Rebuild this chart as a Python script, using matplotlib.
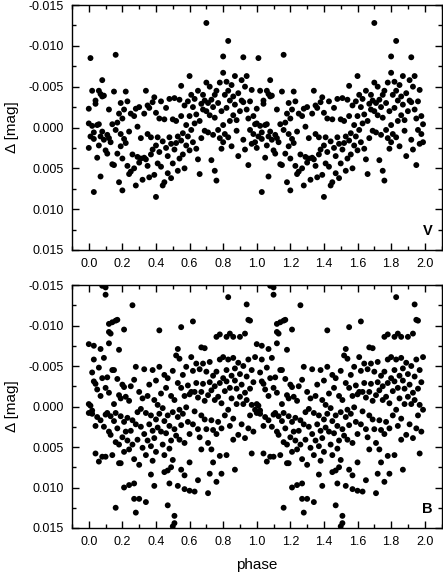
import numpy as np
import matplotlib
matplotlib.use("Agg")
import matplotlib.pyplot as plt
from matplotlib.ticker import MultipleLocator, FormatStrFormatter

plt.rcParams['font.family'] = ['Liberation Sans', 'DejaVu Sans']

# ---- V band: one cycle of phased data (phase, delta mag) ----
v_phase = [
    0.01, 0.03, 0.16, 0.70, 0.83, 0.80, 0.92, 0.40,
    0.00, 0.00, 0.01, 0.00, 0.02, 0.02, 0.03, 0.03, 0.04, 0.04, 0.05, 0.05,
    0.06, 0.06, 0.06, 0.07, 0.07, 0.08, 0.08, 0.08, 0.07, 0.09, 0.09, 0.10,
    0.11, 0.11, 0.12, 0.12, 0.13, 0.14, 0.14, 0.15, 0.15, 0.16, 0.17, 0.17,
    0.18, 0.18, 0.19, 0.19, 0.19, 0.20, 0.20, 0.20, 0.21, 0.21, 0.22, 0.22,
    0.23, 0.23, 0.24, 0.24, 0.25, 0.25, 0.26, 0.27, 0.27, 0.28, 0.28, 0.29,
    0.29, 0.30, 0.30,
    0.31, 0.31, 0.32, 0.33, 0.33, 0.34, 0.34, 0.35, 0.35, 0.35, 0.36, 0.36,
    0.37, 0.37, 0.38, 0.38, 0.39, 0.39, 0.40, 0.40, 0.41, 0.41, 0.42, 0.42,
    0.43, 0.43, 0.44, 0.44, 0.45, 0.45, 0.46, 0.46, 0.47, 0.47, 0.48, 0.48,
    0.49, 0.49, 0.50, 0.50,
    0.51, 0.51, 0.52, 0.52, 0.53, 0.53, 0.54, 0.54, 0.55, 0.55, 0.55, 0.56,
    0.56, 0.57, 0.57, 0.58, 0.58, 0.59, 0.59, 0.60, 0.60, 0.60, 0.61, 0.61,
    0.62, 0.62, 0.63, 0.63, 0.64, 0.64, 0.65, 0.65, 0.66, 0.66, 0.67, 0.67,
    0.68, 0.68, 0.69, 0.69, 0.70, 0.70,
    0.71, 0.71, 0.72, 0.72, 0.73, 0.73, 0.74, 0.74, 0.75, 0.75, 0.75, 0.76,
    0.76, 0.77, 0.77, 0.78, 0.78, 0.79, 0.79, 0.80, 0.80, 0.80, 0.81, 0.81,
    0.82, 0.82, 0.83, 0.83, 0.84, 0.84, 0.85, 0.85, 0.86, 0.86, 0.87, 0.87,
    0.88, 0.88, 0.89, 0.89, 0.90,
    0.91, 0.91, 0.92, 0.92, 0.93, 0.93, 0.94, 0.94, 0.95, 0.95, 0.96, 0.96,
    0.97, 0.97, 0.98, 0.98, 0.99, 0.99,
]
v_mag = [
    -0.0085, 0.0079, -0.0089, -0.0128, -0.0106, -0.0087, -0.0086, 0.0085,
    -0.0023, -0.0005, 0.0011, 0.0025, -0.0045, -0.0002, 0.0006, 0.0014, -0.0033, -0.0029, 0.0037, -0.0003,
    -0.0045, -0.0004, 0.0022, -0.0041, 0.0011, -0.0058, -0.0038, 0.0005, 0.0060, 0.0015, -0.0039, 0.0028,
    0.0009, 0.0032, -0.0022, 0.0013, 0.0018, -0.0004, 0.0045, -0.0044, 0.0046, 0.0003, -0.0006, 0.0032,
    0.0067, -0.0017, -0.0030, 0.0008, 0.0023, -0.0011, 0.0038, 0.0077, 0.0014, -0.0022, -0.0044, 0.0019,
    0.0047, -0.0032, 0.0057, 0.0005, 0.0054, -0.0017, 0.0033, -0.0014, 0.0050, 0.0071, -0.0023, 0.0036,
    -0.0001, 0.0043, -0.0025,
    0.0038, 0.0013, 0.0064, 0.0037, -0.0017, -0.0045, 0.0039, 0.0047, -0.0027, 0.0008, 0.0061, -0.0024,
    0.0012, 0.0033, -0.0031, 0.0027, -0.0037, 0.0058, 0.0022, -0.0018, 0.0012, 0.0044, -0.0011, 0.0030,
    0.0048, -0.0032, 0.0071, 0.0017, -0.0010, 0.0067, 0.0025, -0.0024, 0.0035, 0.0056, -0.0035, 0.0012,
    0.0062, 0.0020, -0.0010, 0.0044,
    0.0027, -0.0036, 0.0019, -0.0008, 0.0053, 0.0011, -0.0034, 0.0038, -0.0051, 0.0016, -0.0014, 0.0007,
    0.0033, -0.0027, 0.0050, -0.0003, 0.0022, -0.0032, 0.0011, -0.0063, -0.0014, 0.0028, -0.0040, 0.0003,
    -0.0025, 0.0018, -0.0035, -0.0005, 0.0026, -0.0016, -0.0045, 0.0039, -0.0008, 0.0057, -0.0029, 0.0013,
    -0.0022, -0.0040, 0.0004, -0.0033, -0.0055, -0.0020,
    -0.0030, 0.0006, -0.0050, -0.0015, -0.0034, 0.0040, -0.0025, 0.0009, -0.0040, 0.0053, -0.0012, 0.0065,
    -0.0045, 0.0003, -0.0030, -0.0055, 0.0013, -0.0020, 0.0026, -0.0067, -0.0003, 0.0018, -0.0040, 0.0008,
    -0.0056, -0.0024, 0.0012, -0.0045, -0.0033, -0.0008, 0.0023, -0.0052, -0.0038, -0.0015, -0.0063, -0.0028,
    -0.0009, 0.0004, -0.0042, 0.0035, -0.0020,
    -0.0033, -0.0058, -0.0031, 0.0015, -0.0050, 0.0027, -0.0063, -0.0022, 0.0046, -0.0011, 0.0003, -0.0032,
    0.0020, -0.0046, -0.0014, 0.0008, 0.0018, -0.0004,
]

# ---- B band: one cycle of phased data (phase, delta mag) ----
b_phase = [
    0.08, 0.10, 0.10, 0.26, 0.83, 0.94,
    0.12, 0.14, 0.16, 0.17, 0.12, 0.13, 0.21, 0.62, 0.55, 0.42, 0.95, 0.96,
    0.00, 0.03, 0.07, 0.12, 0.18, 0.53,
    0.86, 0.82, 0.78, 0.76, 0.84, 0.90, 0.93, 0.69, 0.67,
    0.16, 0.28, 0.27, 0.30, 0.34, 0.21, 0.24, 0.27, 0.39,
    0.51, 0.50, 0.51, 0.47, 0.37, 0.45, 0.47, 0.49, 0.50, 0.48,
    0.53, 0.57, 0.60, 0.63, 0.65, 0.71, 0.55, 0.57, 0.60,
    0.72, 0.74, 0.79, 0.76, 0.87, 0.82, 0.78, 0.86, 0.97, 0.67, 0.73,
    0.00, 0.00, 0.01, 0.02, 0.02, 0.02, 0.03, 0.03, 0.04, 0.04, 0.04, 0.05,
    0.05, 0.06, 0.06, 0.07, 0.07, 0.08, 0.08, 0.09, 0.09, 0.10, 0.10, 0.10,
    0.11, 0.11, 0.12, 0.12, 0.13, 0.13, 0.14, 0.14, 0.15, 0.15, 0.15, 0.16,
    0.16, 0.17, 0.17, 0.18, 0.18, 0.18, 0.19, 0.19, 0.19, 0.20, 0.20,
    0.21, 0.21, 0.21, 0.22, 0.22, 0.23, 0.23, 0.24, 0.24, 0.25, 0.25, 0.26,
    0.26, 0.27, 0.27, 0.28, 0.28, 0.29, 0.29, 0.30, 0.30,
    0.31, 0.31, 0.32, 0.32, 0.33, 0.33, 0.34, 0.34, 0.35, 0.35, 0.36, 0.36,
    0.37, 0.37, 0.38, 0.38, 0.38, 0.39, 0.39, 0.40, 0.40, 0.40,
    0.41, 0.41, 0.42, 0.42, 0.43, 0.43, 0.44, 0.44, 0.45, 0.45, 0.45, 0.46,
    0.46, 0.47, 0.47, 0.48, 0.48, 0.49, 0.49, 0.50, 0.50,
    0.51, 0.51, 0.52, 0.52, 0.53, 0.53, 0.54, 0.54, 0.54, 0.55, 0.55, 0.56,
    0.56, 0.57, 0.57, 0.58, 0.58, 0.59, 0.59, 0.60, 0.60,
    0.61, 0.61, 0.62, 0.62, 0.63, 0.63, 0.64, 0.64, 0.65, 0.65, 0.66, 0.66,
    0.67, 0.67, 0.68, 0.68, 0.69, 0.69, 0.70, 0.70,
    0.71, 0.71, 0.72, 0.72, 0.73, 0.73, 0.74, 0.74, 0.75, 0.75, 0.76, 0.76,
    0.77, 0.77, 0.78, 0.78, 0.79, 0.79, 0.80, 0.80,
    0.81, 0.81, 0.82, 0.82, 0.83, 0.83, 0.84, 0.84, 0.85, 0.85, 0.86, 0.86,
    0.87, 0.87, 0.88, 0.88, 0.89, 0.89, 0.90, 0.90,
    0.91, 0.91, 0.92, 0.92, 0.93, 0.93, 0.94, 0.94, 0.95, 0.95, 0.96, 0.96,
    0.97, 0.97, 0.98, 0.98, 0.99, 0.99,
]
b_mag = [
    -0.0149, -0.0147, -0.0138, -0.0125, -0.0135, -0.0126,
    -0.0102, -0.0104, -0.0106, -0.0107, -0.0092, -0.0090, -0.0095, -0.0105, -0.0098, -0.0094, -0.0107, -0.0106,
    -0.0077, -0.0075, -0.0071, -0.0078, -0.0070, -0.0071,
    -0.0086, -0.0086, -0.0089, -0.0086, -0.0090, -0.0086, -0.0090, -0.0072, -0.0073,
    0.0125, 0.0131, 0.0114, 0.0114, 0.0118, 0.0100, 0.0097, 0.0095, 0.0098,
    0.0144, 0.0148, 0.0135, 0.0122, 0.0084, 0.0081, 0.0079, 0.0075, 0.0066, 0.0095,
    0.0098, 0.0102, 0.0104, 0.0105, 0.0091, 0.0107, 0.0078, 0.0085, 0.0069,
    0.0083, 0.0069, 0.0083, 0.0093, 0.0078, 0.0060, 0.0061, 0.0041, 0.0058, 0.0053, 0.0053,
    -0.0003, 0.0008, -0.0001, 0.0005, -0.0042, 0.0009, -0.0031, -0.0058, -0.0028, 0.0024, 0.0058, -0.0021,
    0.0013, -0.0048, 0.0068, -0.0013, 0.0017, 0.0062, -0.0035, 0.0025, -0.0060, 0.0010, -0.0023, 0.0062,
    -0.0036, 0.0008, 0.0031, -0.0017, 0.0012, 0.0035, -0.0045, 0.0060, -0.0045, 0.0018, -0.0003, 0.0008,
    0.0044, -0.0034, 0.0027, 0.0070, -0.0014, 0.0047, 0.0070, -0.0010, 0.0012, -0.0027, 0.0038,
    -0.0024, 0.0019, 0.0056, 0.0031, -0.0012, 0.0042, 0.0014, -0.0007, 0.0053, 0.0030, -0.0025, 0.0047,
    0.0017, -0.0033, 0.0065, 0.0022, -0.0049, 0.0041, 0.0007, -0.0018, 0.0072,
    0.0025, 0.0003, -0.0010, 0.0051, 0.0034, -0.0046, 0.0008, 0.0060, -0.0013, 0.0042, 0.0022, -0.0027,
    0.0049, 0.0011, -0.0045, 0.0067, 0.0030, -0.0008, 0.0039, 0.0016, -0.0032, 0.0056,
    -0.0002, 0.0026, -0.0049, 0.0009, 0.0031, -0.0016, 0.0047, 0.0002, -0.0039, 0.0018, 0.0060, -0.0023,
    0.0033, 0.0011, -0.0035, 0.0052, 0.0024, -0.0013, 0.0042, 0.0007, -0.0044,
    0.0028, -0.0008, 0.0036, -0.0063, 0.0013, -0.0029, -0.0059, 0.0004, 0.0041, -0.0023, 0.0023, -0.0039,
    0.0009, -0.0013, 0.0045, -0.0049, 0.0001, -0.0026, 0.0019, -0.0015, 0.0034,
    -0.0061, -0.0018, 0.0022, -0.0044, -0.0018, 0.0006, -0.0053, -0.0029, 0.0028, -0.0011, -0.0046, 0.0038,
    -0.0018, 0.0011, -0.0028, -0.0053, 0.0016, -0.0007, -0.0043, 0.0028,
    -0.0014, 0.0045, -0.0030, -0.0055, -0.0020, 0.0017, -0.0038, 0.0029, -0.0008, -0.0025, 0.0034, -0.0043,
    -0.0012, 0.0019, -0.0058, -0.0029, -0.0004, 0.0027, -0.0035, -0.0061,
    -0.0019, 0.0011, -0.0045, -0.0031, 0.0004, -0.0058, -0.0023, 0.0024, -0.0038, -0.0010, -0.0060, 0.0015,
    -0.0032, -0.0047, -0.0003, -0.0022, -0.0054, 0.0035, -0.0012, -0.0040,
    0.0022, -0.0027, -0.0050, -0.0003, -0.0017, 0.0039, -0.0037, -0.0008, -0.0058, 0.0027, -0.0022, 0.0011,
    -0.0045, -0.0002, 0.0031, -0.0030, -0.0061, 0.0004,
]

band_labels = ["V", "B"]
x_ticks = [0.0, 0.2, 0.4, 0.6, 0.8, 1.0, 1.2, 1.4, 1.6, 1.8, 2.0]
y_ticks = [-0.015, -0.010, -0.005, 0.000, 0.005, 0.010, 0.015]

fig = plt.figure(figsize=(4.43, 5.77), dpi=100)
W, H = 443, 577
ax_top = fig.add_axes([72 / W, 1 - 250 / H, (441.5 - 72) / W, (250 - 5) / H])
ax_bot = fig.add_axes([72 / W, 1 - 528 / H, (441.5 - 72) / W, (528 - 285) / H])

for ax, ph, mg, lab in [(ax_top, v_phase, v_mag, band_labels[0]),
                        (ax_bot, b_phase, b_mag, band_labels[1])]:
    ph = np.asarray(ph)
    mg = np.asarray(mg)
    allph = np.concatenate([ph, ph + 1.0])
    allmg = np.concatenate([mg, mg])
    ax.scatter(allph, allmg, s=18, c='black', edgecolors='none', zorder=3)
    ax.set_xlim(-0.1, 2.1)
    ax.set_ylim(0.015, -0.015)
    ax.set_xticks(x_ticks)
    ax.set_yticks(y_ticks)
    ax.xaxis.set_minor_locator(MultipleLocator(0.1))
    ax.yaxis.set_minor_locator(MultipleLocator(0.0025))
    ax.xaxis.set_major_formatter(FormatStrFormatter('%.1f'))
    ax.yaxis.set_major_formatter(FormatStrFormatter('%.3f'))
    ax.tick_params(which='both', direction='in', top=True, right=True,
                   labelsize=9, width=1.0, colors='black')
    ax.tick_params(which='major', length=5, pad=6)
    ax.tick_params(which='minor', length=3)
    for sp in ax.spines.values():
        sp.set_linewidth(1.0)
    ax.set_ylabel('Δ [mag]', fontsize=11, labelpad=7)
    ax.text(0.975, 0.05, lab, transform=ax.transAxes, ha='right', va='bottom',
            fontsize=10.5, fontweight='bold')

ax_bot.set_xlabel('phase', fontsize=11, labelpad=7)

fig.savefig('out.png', dpi=100)
